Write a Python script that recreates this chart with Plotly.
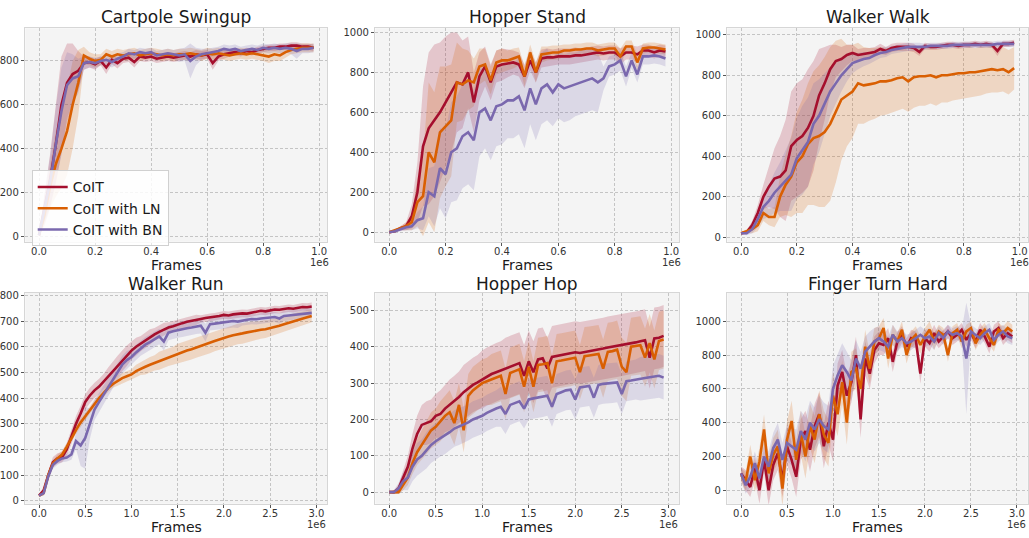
import numpy as np
import plotly.graph_objects as go

# evaluation frames (in units of 1e6)
frames_1m = np.round(np.arange(0, 0.99, 0.02), 2)   # 0.00 .. 0.98
frames_3m = np.round(np.arange(0, 2.96, 0.05), 2)   # 0.00 .. 2.95

methods = ["CoIT", "CoIT with LN", "CoIT with BN"]
colors = ["#a50f2d", "#d95f02", "#7a68ae"]

# ---- Cartpole Swingup ----
cp_coit = [5, 130, 260, 420, 600, 700, 740, 755, 790, 795, 785, 800, 770, 805, 790, 810, 815, 795, 820, 815,
           820, 810, 815, 820, 815, 820, 825, 820, 830, 825, 830, 790, 820, 830, 835, 840, 835, 845, 840, 850,
           855, 860, 860, 865, 865, 870, 870, 865, 865, 860]
cp_ln = [5, 100, 230, 330, 400, 480, 600, 700, 825, 810, 800, 805, 830, 820, 830, 825, 830, 835, 825, 830,
         835, 830, 825, 830, 825, 830, 830, 835, 830, 825, 835, 830, 835, 830, 825, 830, 835, 830, 835, 830,
         825, 820, 830, 825, 840, 850, 855, 860, 860, 860]
cp_bn = [5, 120, 250, 420, 570, 690, 720, 730, 790, 795, 790, 800, 805, 795, 810, 820, 835, 830, 840, 835,
         840, 825, 830, 835, 830, 825, 830, 800, 820, 830, 835, 840, 845, 855, 850, 855, 845, 850, 855, 850,
         860, 855, 860, 855, 860, 855, 845, 855, 855, 860]
cp_coit_sd = [5, 60, 120, 180, 220, 180, 140, 90, 30, 25, 25, 20, 30, 20, 25, 20, 20, 25, 20, 20,
              20, 20, 20, 20, 20, 20, 20, 20, 20, 20, 20, 30, 20, 20, 15, 15, 15, 15, 15, 15,
              15, 15, 15, 15, 15, 15, 15, 15, 15, 15]
cp_ln_sd = [5, 50, 100, 150, 180, 200, 200, 150, 40, 30, 30, 25, 25, 25, 25, 25, 25, 25, 25, 25,
            25, 25, 25, 25, 25, 25, 25, 25, 25, 25, 25, 25, 25, 25, 25, 25, 25, 25, 25, 25,
            25, 30, 30, 25, 25, 20, 20, 20, 20, 20]
cp_bn_sd = [5, 60, 120, 170, 200, 150, 110, 80, 30, 25, 25, 20, 20, 25, 25, 20, 20, 20, 20, 20,
            20, 20, 20, 20, 20, 30, 30, 80, 40, 25, 20, 20, 20, 20, 20, 20, 20, 20, 20, 20,
            20, 20, 20, 20, 20, 25, 35, 20, 20, 20]

# ---- Hopper Stand ----
hs_coit = [0, 5, 20, 30, 80, 200, 430, 520, 560, 600, 650, 700, 750, 740, 800, 650, 780, 830, 750, 830,
           840, 845, 850, 840, 780, 860, 800, 870, 875, 875, 880, 880, 880, 885, 885, 890, 895, 900, 895, 900,
           900, 880, 900, 900, 890, 910, 910, 900, 910, 905]
hs_ln = [0, 10, 20, 30, 50, 150, 180, 400, 350, 500, 530, 560, 750, 740, 760, 750, 830, 840, 760, 850,
         860, 860, 870, 880, 780, 900, 800, 890, 895, 900, 900, 910, 910, 915, 915, 920, 920, 910, 915, 920,
         920, 880, 930, 930, 850, 920, 925, 925, 920, 915]
hs_bn = [0, 5, 15, 25, 30, 60, 70, 200, 180, 320, 290, 400, 420, 480, 500, 460, 600, 620, 560, 630,
         640, 660, 660, 680, 610, 720, 640, 720, 740, 700, 740, 720, 730, 740, 750, 760, 770, 750, 770, 830,
         840, 860, 780, 860, 790, 880, 880, 885, 880, 870]
hs_coit_sd = [0, 5, 10, 20, 60, 150, 300, 380, 380, 350, 330, 300, 250, 220, 180, 150, 120, 100, 90, 80,
              80, 70, 60, 60, 60, 50, 50, 45, 45, 40, 40, 40, 40, 40, 35, 35, 35, 35, 35, 35,
              35, 40, 35, 35, 40, 30, 30, 30, 30, 30]
hs_ln_sd = [0, 5, 10, 20, 40, 120, 200, 350, 350, 330, 300, 280, 200, 180, 150, 120, 90, 80, 70, 60,
            60, 50, 50, 45, 50, 40, 50, 40, 35, 35, 35, 30, 30, 30, 30, 30, 30, 30, 30, 30,
            30, 40, 30, 30, 40, 25, 25, 25, 25, 25]
hs_bn_sd = [0, 5, 10, 15, 20, 40, 60, 120, 150, 200, 220, 250, 260, 260, 260, 250, 220, 200, 200, 200,
            200, 190, 190, 190, 190, 180, 180, 180, 180, 170, 170, 170, 170, 160, 160, 160, 160, 150, 60, 50,
            50, 50, 50, 40, 40, 40, 40, 40, 40, 40]

# ---- Walker Walk ----
ww_coit = [20, 25, 60, 120, 200, 250, 290, 300, 330, 450, 480, 500, 540, 600, 700, 760, 830, 870, 880, 900,
           910, 900, 905, 910, 915, 930, 920, 935, 940, 940, 940, 935, 915, 945, 940, 940, 945, 950, 950, 945,
           950, 950, 955, 950, 955, 950, 920, 955, 955, 960]
ww_ln = [20, 30, 40, 60, 120, 100, 100, 200, 260, 300, 370, 400, 460, 490, 500, 520, 560, 620, 680, 700,
         720, 760, 750, 755, 760, 770, 770, 775, 785, 790, 770, 790, 795, 795, 800, 790, 800, 800, 805, 810,
         810, 815, 815, 820, 825, 830, 825, 830, 815, 835]
ww_bn = [20, 20, 40, 90, 150, 180, 220, 250, 280, 310, 390, 430, 470, 560, 600, 660, 720, 760, 800, 830,
         860, 870, 880, 885, 900, 910, 915, 925, 930, 935, 940, 940, 940, 940, 945, 945, 945, 945, 950, 950,
         950, 950, 950, 950, 950, 950, 955, 955, 955, 955]
ww_coit_sd = [5, 10, 20, 40, 60, 100, 150, 200, 250, 270, 280, 280, 290, 270, 230, 180, 120, 80, 60, 50,
              40, 30, 30, 25, 25, 25, 20, 20, 20, 20, 20, 20, 20, 15, 15, 15, 15, 15, 15, 15,
              15, 15, 15, 15, 15, 15, 25, 15, 15, 15]
ww_ln_sd = [5, 10, 20, 30, 40, 40, 50, 100, 150, 200, 250, 280, 300, 330, 350, 370, 380, 350, 300, 250,
            230, 200, 190, 180, 175, 170, 165, 160, 160, 155, 150, 150, 145, 145, 140, 140, 135, 135, 130, 130,
            125, 125, 120, 120, 115, 115, 110, 110, 110, 105]
ww_bn_sd = [5, 10, 20, 40, 60, 80, 100, 120, 150, 180, 200, 220, 220, 200, 180, 150, 120, 100, 80, 60,
            50, 40, 35, 30, 30, 25, 25, 20, 20, 20, 20, 20, 20, 15, 15, 15, 15, 15, 15, 15,
            15, 15, 15, 15, 15, 15, 15, 15, 15, 15]

# ---- Walker Run ----
wr_coit = [20, 40, 100, 150, 165, 170, 200, 250, 300, 340, 385, 410, 430, 445, 465, 485, 505, 525, 545, 565,
           585, 600, 612, 625, 638, 648, 658, 668, 675, 680, 687, 692, 697, 700, 705, 708, 712, 714, 716, 720,
           724, 722, 726, 728, 730, 729, 733, 736, 740, 738, 742, 745, 744, 747, 750, 748, 752, 755, 754, 757]
wr_ln = [20, 30, 100, 145, 165, 180, 210, 245, 275, 305, 330, 355, 380, 400, 420, 440, 455, 468, 478, 485,
         492, 505, 515, 522, 530, 537, 545, 552, 560, 565, 572, 578, 585, 590, 597, 603, 610, 615, 622, 628,
         635, 640, 645, 650, 652, 656, 660, 662, 666, 668, 672, 676, 682, 688, 694, 700, 705, 710, 715, 720]
wr_bn = [20, 30, 95, 140, 155, 165, 168, 180, 232, 215, 245, 300, 355, 385, 415, 445, 475, 505, 530, 548,
         560, 578, 595, 608, 618, 628, 640, 620, 655, 660, 665, 668, 672, 675, 680, 682, 655, 688, 690, 692,
         695, 697, 700, 698, 703, 705, 708, 707, 710, 712, 714, 716, 710, 720, 722, 724, 726, 728, 730, 732]
wr_coit_sd = [5, 10, 15, 20, 20, 20, 25, 30, 30, 30, 30, 30, 30, 30, 30, 35, 40, 40, 40, 40,
              35, 35, 30, 30, 30, 25, 25, 25, 20, 20, 20, 20, 20, 20, 20, 15, 15, 15, 15, 15,
              15, 15, 15, 15, 15, 15, 15, 15, 15, 15, 15, 15, 15, 15, 15, 15, 15, 15, 15, 15]
wr_ln_sd = [5, 10, 15, 15, 15, 15, 15, 15, 15, 15, 15, 15, 15, 15, 15, 15, 15, 20, 20, 20,
            20, 25, 25, 30, 30, 30, 35, 35, 35, 35, 40, 40, 40, 40, 40, 40, 40, 40, 40, 40,
            40, 40, 40, 40, 40, 40, 38, 36, 35, 34, 33, 32, 31, 30, 30, 30, 30, 28, 26, 25]
wr_bn_sd = [5, 10, 15, 15, 15, 15, 15, 20, 30, 80, 120, 60, 40, 35, 35, 35, 35, 35, 35, 35,
            30, 30, 30, 30, 30, 30, 30, 35, 30, 30, 30, 30, 30, 30, 30, 30, 35, 25, 25, 25,
            25, 25, 25, 25, 20, 20, 20, 20, 20, 20, 20, 20, 20, 20, 20, 20, 20, 20, 20, 20]

# ---- Hopper Hop ----
hh_coit = [0, 0, 10, 40, 70, 120, 160, 185, 190, 195, 210, 215, 230, 240, 250, 262, 275, 285, 295, 302,
           310, 318, 325, 330, 335, 340, 345, 350, 355, 320, 360, 330, 365, 368, 340, 372, 375, 378, 380, 382,
           385, 383, 385, 388, 390, 392, 395, 398, 400, 402, 405, 407, 410, 412, 415, 418, 370, 423, 425, 430]
hh_ln = [0, 0, 0, 20, 40, 80, 110, 130, 150, 170, 180, 195, 210, 220, 190, 240, 170, 265, 280, 290,
         300, 305, 310, 315, 320, 270, 328, 333, 338, 290, 345, 290, 350, 352, 355, 300, 360, 362, 364, 366,
         370, 330, 374, 376, 378, 380, 340, 386, 388, 392, 345, 330, 400, 402, 404, 370, 410, 365, 416, 420]
hh_bn = [0, 0, 10, 30, 40, 70, 90, 100, 115, 130, 140, 148, 155, 165, 175, 180, 185, 192, 200, 205,
         210, 218, 225, 230, 235, 215, 240, 245, 250, 230, 255, 258, 260, 262, 265, 235, 270, 275, 280, 282,
         255, 288, 290, 292, 260, 295, 298, 300, 300, 302, 270, 305, 307, 310, 312, 314, 316, 318, 320, 315]
hh_coit_sd = [0, 5, 10, 20, 30, 40, 50, 55, 60, 60, 60, 65, 65, 70, 70, 70, 75, 75, 75, 75,
              80, 80, 80, 80, 80, 85, 85, 85, 85, 85, 85, 85, 85, 85, 85, 85, 85, 85, 85, 85,
              85, 85, 85, 85, 85, 85, 85, 85, 85, 85, 85, 85, 85, 85, 85, 85, 85, 85, 85, 85]
hh_ln_sd = [0, 5, 5, 15, 20, 30, 35, 40, 45, 50, 50, 55, 55, 60, 60, 60, 60, 60, 65, 65,
            65, 65, 70, 70, 70, 70, 70, 70, 70, 70, 70, 70, 75, 75, 75, 75, 75, 75, 75, 75,
            75, 75, 80, 80, 80, 80, 80, 80, 80, 80, 80, 80, 80, 80, 80, 80, 80, 80, 80, 80]
hh_bn_sd = [0, 5, 15, 25, 35, 40, 45, 45, 50, 50, 50, 50, 50, 50, 50, 50, 50, 50, 50, 50,
            50, 50, 50, 50, 55, 55, 55, 55, 55, 55, 55, 55, 55, 55, 55, 55, 55, 55, 55, 55,
            55, 55, 55, 55, 55, 55, 55, 55, 55, 55, 55, 55, 55, 55, 60, 60, 60, 60, 60, 60]

# ---- Finger Turn Hard ----
ft_coit = [100, 60, 20, 130, 0, 180, 0, 150, 220, 60, 260, 180, 80, 300, 350, 240, 380, 450, 260, 400,
           300, 620, 700, 560, 640, 800, 420, 780, 690, 830, 870, 860, 900, 760, 880, 920, 850, 900, 890, 690,
           900, 870, 930, 880, 910, 940, 900, 920, 950, 890, 930, 880, 950, 910, 850, 940, 960, 900, 930, 910]
ft_ln = [90, 50, 200, 60, 170, 360, 100, 210, 260, 10, 300, 410, 180, 340, 200, 380, 300, 450, 330, 280,
         560, 450, 640, 400, 700, 720, 600, 850, 720, 880, 900, 960, 780, 920, 880, 950, 800, 890, 920, 860,
         910, 950, 880, 940, 920, 800, 930, 950, 880, 940, 960, 870, 920, 950, 900, 860, 950, 930, 960, 940]
ft_bn = [100, 30, 80, 160, 70, 200, 140, 250, 300, 180, 280, 260, 240, 350, 300, 400, 360, 420, 380, 360,
         600, 680, 740, 700, 650, 780, 720, 820, 850, 880, 900, 880, 850, 920, 880, 900, 870, 880, 900, 920,
         900, 910, 880, 930, 900, 940, 920, 930, 910, 780, 940, 920, 900, 930, 950, 890, 920, 940, 910, 900]
ft_coit_sd = [40, 60, 60, 70, 80, 80, 90, 90, 100, 100, 110, 110, 120, 120, 120, 130, 130, 130, 130, 130,
              130, 130, 130, 120, 120, 110, 110, 100, 90, 80, 70, 60, 60, 60, 60, 50, 50, 50, 50, 60,
              50, 50, 50, 40, 40, 40, 40, 40, 40, 40, 40, 40, 40, 40, 40, 40, 40, 40, 40, 40]
ft_ln_sd = [40, 60, 70, 70, 80, 90, 90, 100, 100, 110, 110, 120, 120, 130, 130, 130, 140, 140, 140, 140,
            140, 130, 130, 130, 120, 120, 110, 100, 90, 80, 70, 60, 60, 60, 50, 50, 50, 50, 50, 50,
            50, 50, 50, 40, 40, 40, 40, 40, 40, 40, 40, 40, 40, 40, 40, 40, 40, 40, 40, 40]
ft_bn_sd = [40, 50, 60, 70, 70, 80, 90, 90, 100, 100, 110, 110, 120, 120, 130, 130, 130, 140, 140, 140,
            140, 130, 130, 120, 120, 110, 100, 90, 90, 80, 70, 60, 60, 60, 60, 50, 50, 50, 50, 50,
            50, 50, 50, 40, 40, 40, 40, 40, 40, 330, 40, 40, 40, 40, 40, 40, 40, 40, 40, 40]

panels = [
    dict(title="Cartpole Swingup", x=frames_1m, means=[cp_coit, cp_ln, cp_bn],
         sds=[cp_coit_sd, cp_ln_sd, cp_bn_sd], yrange=[-25, 949], dtick=200, xdtick=0.2),
    dict(title="Hopper Stand", x=frames_1m, means=[hs_coit, hs_ln, hs_bn],
         sds=[hs_coit_sd, hs_ln_sd, hs_bn_sd], yrange=[-48, 1021], dtick=200, xdtick=0.2),
    dict(title="Walker Walk", x=frames_1m, means=[ww_coit, ww_ln, ww_bn],
         sds=[ww_coit_sd, ww_ln_sd, ww_bn_sd], yrange=[-22, 1032], dtick=200, xdtick=0.2),
    dict(title="Walker Run", x=frames_3m, means=[wr_coit, wr_ln, wr_bn],
         sds=[wr_coit_sd, wr_ln_sd, wr_bn_sd], yrange=[-12, 811], dtick=100, xdtick=0.5),
    dict(title="Hopper Hop", x=frames_3m, means=[hh_coit, hh_ln, hh_bn],
         sds=[hh_coit_sd, hh_ln_sd, hh_bn_sd], yrange=[-32, 549], dtick=100, xdtick=0.5),
    dict(title="Finger Turn Hard", x=frames_3m, means=[ft_coit, ft_ln, ft_bn],
         sds=[ft_coit_sd, ft_ln_sd, ft_bn_sd], yrange=[-80, 1170], dtick=200, xdtick=0.5),
]

W, H = 1029, 538
col_px = [(25.3, 327.3), (375.4, 679.3), (727.4, 1027.8)]
row_px = [(25.5, 241.0), (292.3, 505.5)]
xranges = [[-0.049, 1.029], [-0.1485, 3.1185]]
label_shift = [-3, -3]


def rgba(hex_color, a):
    h = hex_color.lstrip("#")
    r, g, b = int(h[0:2], 16), int(h[2:4], 16), int(h[4:6], 16)
    return f"rgba({r},{g},{b},{a})"


FONT = "DejaVu Sans"
fig = go.Figure()
annotations = []
layout_axes = {}

for i, p in enumerate(panels):
    row, col = divmod(i, 3)
    n = i + 1
    xname = "x" if n == 1 else f"x{n}"
    yname = "y" if n == 1 else f"y{n}"
    x = np.asarray(p["x"], dtype=float)

    for k, (m, s) in enumerate(zip(p["means"], p["sds"])):
        m = np.asarray(m, dtype=float)
        s = np.asarray(s, dtype=float)
        hi = m + s
        lo = m - s
        fig.add_trace(go.Scatter(
            x=np.concatenate([x, x[::-1]]), y=np.concatenate([hi, lo[::-1]]),
            fill="toself", fillcolor=rgba(colors[k], 0.2), line=dict(width=0),
            mode="lines", hoverinfo="skip", showlegend=False, xaxis=xname, yaxis=yname))
    for k, m in enumerate(p["means"]):
        fig.add_trace(go.Scatter(
            x=x, y=m, mode="lines", name=methods[k],
            line=dict(color=colors[k], width=2.6),
            showlegend=(i == 0), legendgroup=methods[k], xaxis=xname, yaxis=yname))

    x0, x1 = col_px[col]
    y0, y1 = row_px[row]
    dom_x = [x0 / W, x1 / W]
    dom_y = [1 - y1 / H, 1 - y0 / H]
    axis_common = dict(
        showgrid=True, gridcolor="#c4c4c4", griddash="3px,2px", gridwidth=0.8,
        zeroline=False, showline=True, mirror=True, linecolor="#d6d6d6", linewidth=1,
        ticks="outside", ticklen=3.5, tickcolor="#555555", tickwidth=0.8,
        tickfont=dict(family=FONT, size=10, color="#333333"),
    )
    layout_axes["xaxis" if n == 1 else f"xaxis{n}"] = dict(
        axis_common, domain=dom_x, anchor=yname, range=xranges[row],
        dtick=p["xdtick"], tick0=0, tickformat=".1f", ticklabelstandoff=label_shift[row])
    layout_axes["yaxis" if n == 1 else f"yaxis{n}"] = dict(
        axis_common, domain=dom_y, anchor=xname, range=p["yrange"],
        dtick=p["dtick"], tick0=0)

    cx = (x0 + x1) / 2 / W
    title_y = 14.5 if row == 0 else 283.5
    annotations.append(dict(text=p["title"], x=cx, y=1 - title_y / H, xref="paper", yref="paper",
                            xanchor="center", yanchor="middle", showarrow=False, borderpad=0,
                            font=dict(family=FONT, size=17, color="#1a1a1a")))
    # axis label: row 1 centred under the ticks, row 2 sits on the bottom edge
    if row == 0:
        annotations.append(dict(text="Frames", x=cx, y=1 - 264.5 / H, xref="paper", yref="paper",
                                xanchor="center", yanchor="middle", showarrow=False, borderpad=0,
                                font=dict(family=FONT, size=14, color="#1a1a1a")))
    else:
        annotations.append(dict(text="Frames", x=cx, y=0, xref="paper", yref="paper",
                                xanchor="center", yanchor="bottom", showarrow=False, borderpad=0,
                                font=dict(family=FONT, size=14, color="#1a1a1a")))
    # offset text of the scaled x axis, under the last tick
    last_tick = 1.0 if row == 0 else 3.0
    xr = xranges[row]
    tick_px = x0 + (last_tick - xr[0]) / (xr[1] - xr[0]) * (x1 - x0)
    annotations.append(dict(text="1e6", x=tick_px / W, y=1 - (y1 + 20.5) / H, xref="paper", yref="paper",
                            xanchor="center", yanchor="middle", showarrow=False, borderpad=0,
                            font=dict(family=FONT, size=10, color="#333333")))

fig.update_layout(
    width=W, height=H, margin=dict(l=0, r=0, t=0, b=0),
    paper_bgcolor="white", plot_bgcolor="#f4f4f4",
    annotations=annotations,
    legend=dict(x=31.7 / W, y=1 - 169 / H, xanchor="left", yanchor="top",
                bgcolor="rgba(255,255,255,0.85)", bordercolor="#d0d0d0", borderwidth=1,
                font=dict(family=FONT, size=14, color="#1a1a1a"), tracegroupgap=0),
    **layout_axes,
)

fig.write_html("out.html")
